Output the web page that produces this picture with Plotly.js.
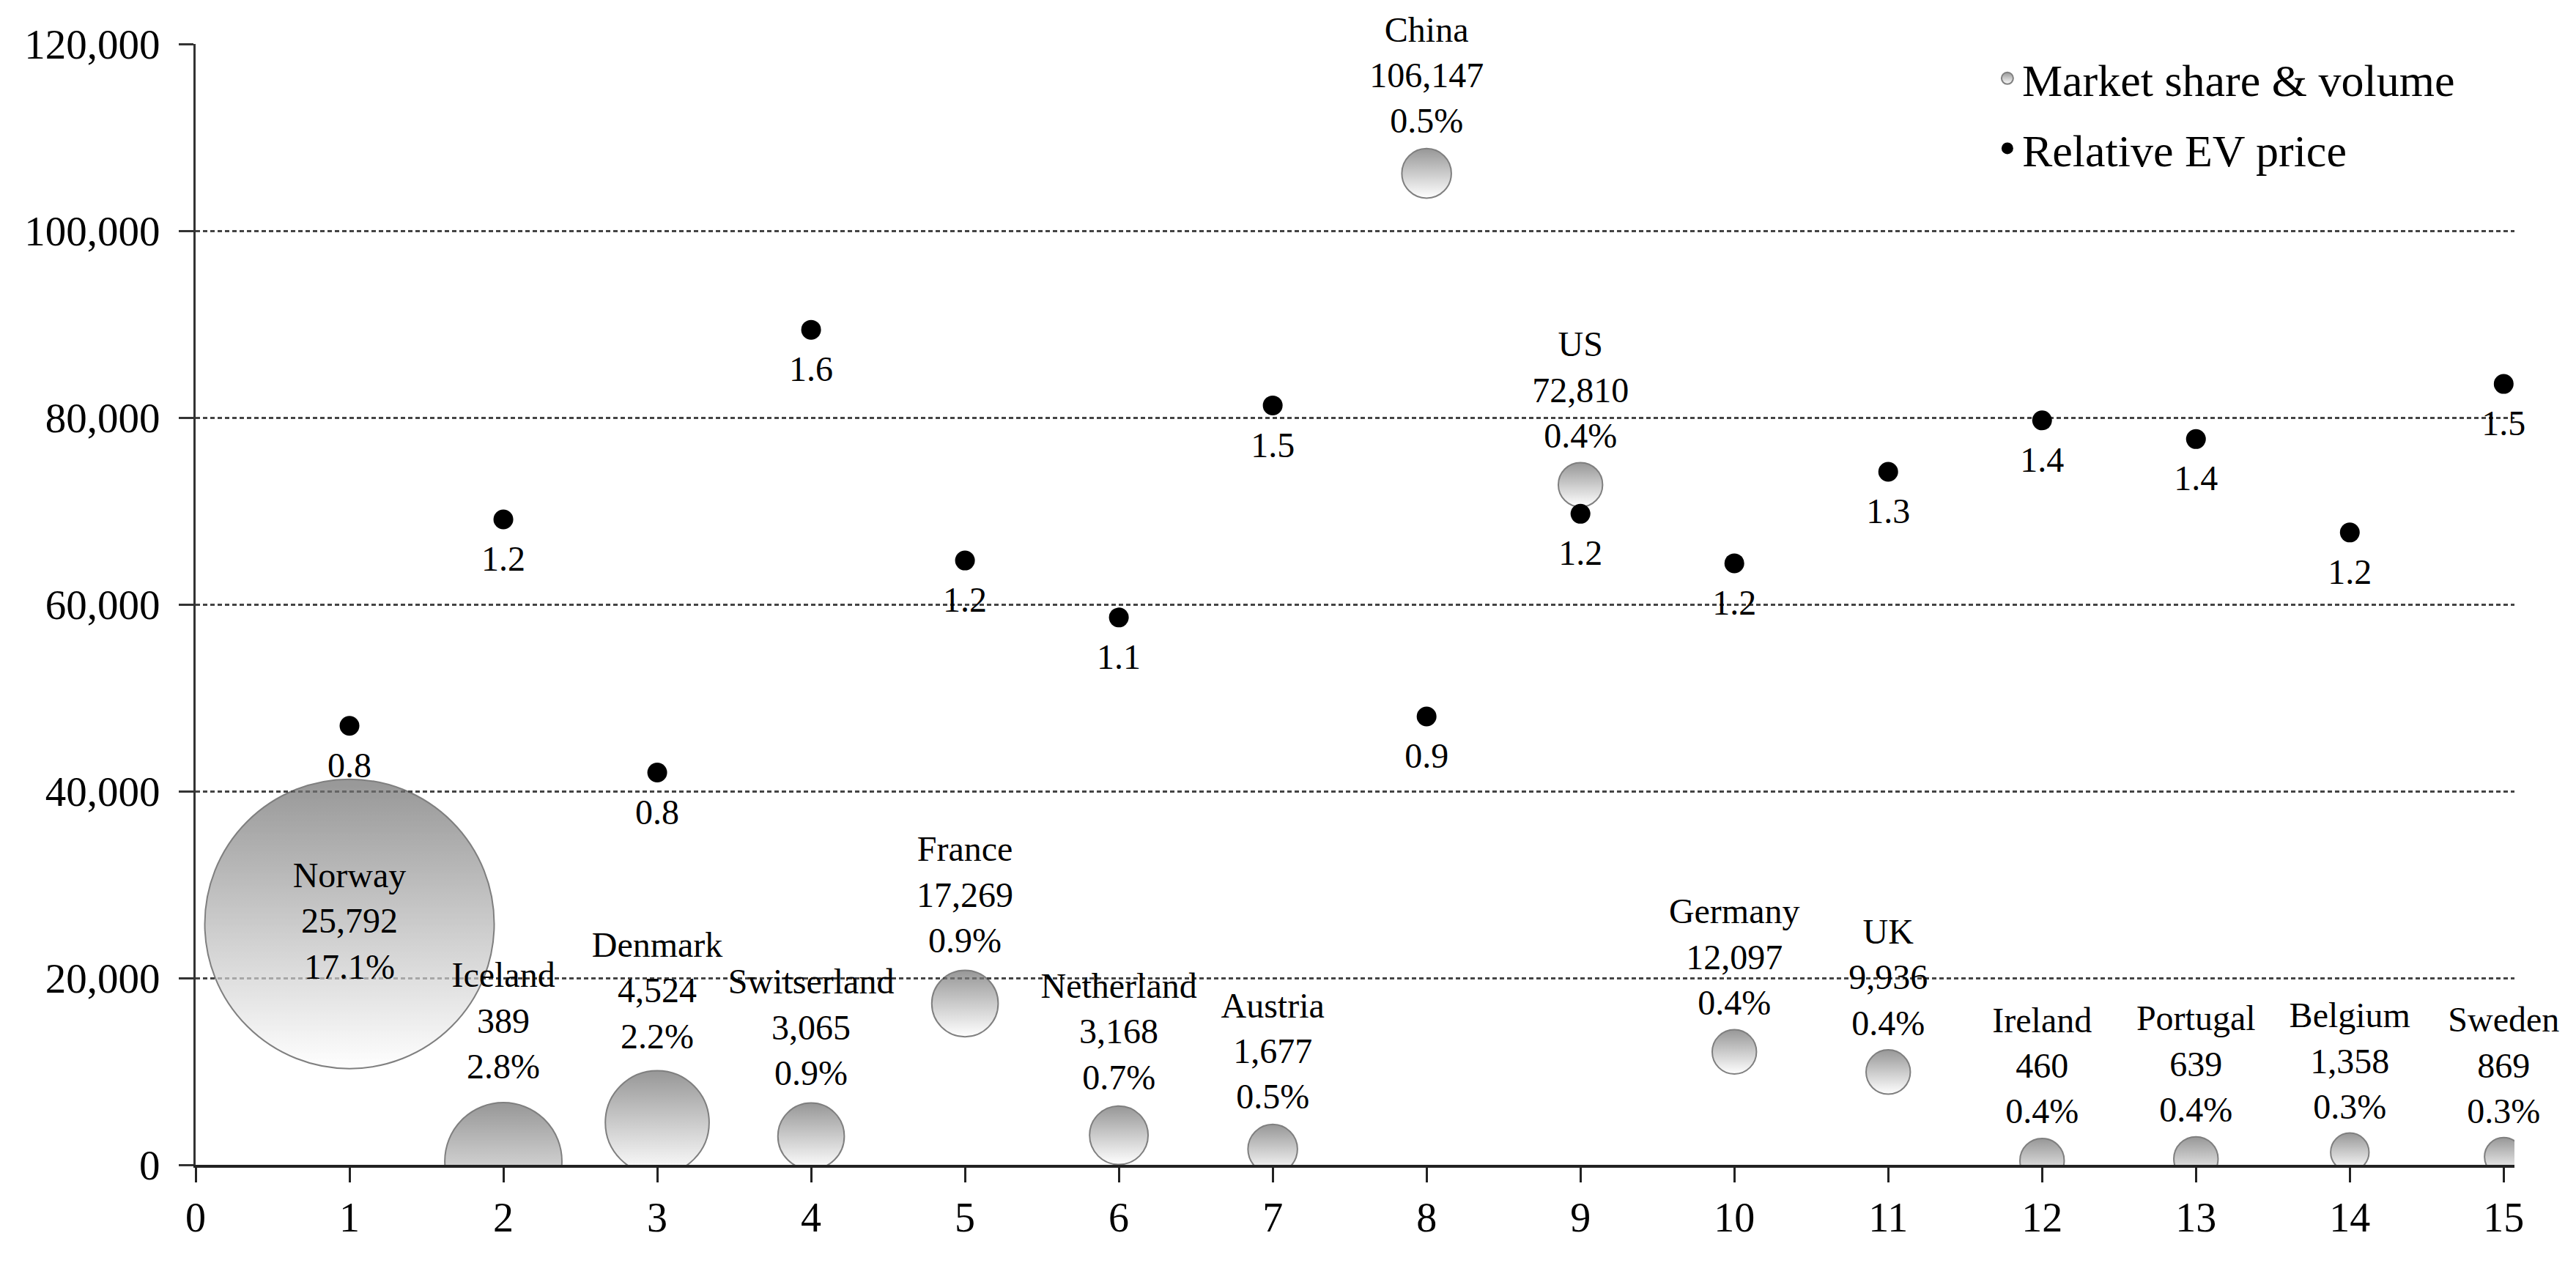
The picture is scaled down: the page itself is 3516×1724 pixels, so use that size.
<!DOCTYPE html>
<html>
<head>
<meta charset="utf-8">
<script src="https://cdn.plot.ly/plotly-3.0.1.min.js"></script>
<style>
  html, body { margin: 0; padding: 0; background: #fff; }
  #chart { width: 3516px; height: 1724px; }
</style>
</head>
<body>
<div id="chart"></div>
<script>
// ---- data ----
var countryIndex = [1, 2, 3, 4, 5, 6, 7, 8, 9, 10, 11, 12, 13, 14, 15];
var countries = ["Norway", "Iceland", "Denmark", "Switserland", "France", "Netherland", "Austria", "China", "US", "Germany", "UK", "Ireland", "Portugal", "Belgium", "Sweden"];
var evVolume = [25792, 389, 4524, 3065, 17269, 3168, 1677, 106147, 72810, 12097, 9936, 460, 639, 1358, 869];
var marketShare = [17.1, 2.8, 2.2, 0.9, 0.9, 0.7, 0.5, 0.5, 0.4, 0.4, 0.4, 0.4, 0.4, 0.3, 0.3];
var evPrice = [47000, 69100, 42000, 89400, 64700, 58600, 81300, 48000, 69700, 64400, 74200, 79700, 77700, 67700, 83600];
var relativePrice = [0.8, 1.2, 0.8, 1.6, 1.2, 1.1, 1.5, 0.9, 1.2, 1.2, 1.3, 1.4, 1.4, 1.2, 1.5];
var xTicks = [0, 1, 2, 3, 4, 5, 6, 7, 8, 9, 10, 11, 12, 13, 14, 15];
var yTicks = [0, 20000, 40000, 60000, 80000, 100000, 120000];

// ---- derived labels ----
var bubbleText = countries.map(function (c, i) {
  return c + "<br>" + evVolume[i].toLocaleString("en-US") + "<br>" + marketShare[i].toFixed(1) + "%";
});
var bubbleTextPos = countries.map(function (c, i) {
  return i === 0 ? "middle center" : "top center";
});
var priceText = relativePrice.map(function (v) { return v.toFixed(1); });

var FONT = "Liberation Serif, Times New Roman, serif";
// bubble area proportional to market share; scaled by 10 only so the legend symbol gets a usable size
var bubbleSize = marketShare.map(function (v) { return v * 10; });
var maxSize = Math.max.apply(null, bubbleSize);
var SIZEREF = 2 * maxSize / (395 * 395);

var bubbleMarker = {
  size: bubbleSize,
  sizemode: "area",
  sizeref: SIZEREF,
  color: "#6c6c6c",
  gradient: { type: "vertical", color: "#ffffff" },
  line: { color: "#4a4a4a", width: 2 }
};

// bubbles: clipped at the axes (half-hidden at y = 0)
var bubbles = {
  type: "scatter",
  mode: "markers",
  name: "Market share & volume",
  legendgroup: "a",
  x: countryIndex,
  y: evVolume,
  marker: bubbleMarker,
  cliponaxis: true,
  hoverinfo: "skip"
};

// bubble labels: same points, invisible markers so text offsets follow bubble size; not clipped
var bubbleLabels = {
  type: "scatter",
  mode: "markers+text",
  showlegend: false,
  legendgroup: "a",
  x: countryIndex,
  y: evVolume,
  text: bubbleText,
  textposition: bubbleTextPos,
  textfont: { family: FONT, size: 48, color: "#000" },
  marker: { size: bubbleSize, sizemode: "area", sizeref: SIZEREF, color: "rgba(0,0,0,0)", line: { width: 0 } },
  cliponaxis: false,
  hoverinfo: "skip"
};

var dots = {
  type: "scatter",
  mode: "markers",
  name: "Relative EV price",
  legendgroup: "b",
  x: countryIndex,
  y: evPrice,
  marker: { size: 27, color: "#000000", line: { width: 0 } },
  cliponaxis: false,
  hoverinfo: "skip"
};

var dotLabels = {
  type: "scatter",
  mode: "markers+text",
  showlegend: false,
  legendgroup: "b",
  x: countryIndex,
  y: evPrice,
  text: priceText,
  textposition: "bottom center",
  textfont: { family: FONT, size: 48, color: "#000" },
  marker: { size: 53, color: "rgba(0,0,0,0)", line: { width: 0 } },
  cliponaxis: false,
  hoverinfo: "skip"
};

var layout = {
  width: 3516,
  height: 1724,
  margin: { l: 267, r: 84, t: 60, b: 134 },
  paper_bgcolor: "#ffffff",
  plot_bgcolor: "#ffffff",
  showlegend: true,
  legend: {
    x: 0.775, y: 1.0, xanchor: "left", yanchor: "top",
    bgcolor: "rgba(0,0,0,0)",
    font: { family: FONT, size: 62, color: "#000" },
    itemsizing: "trace",
    traceorder: "grouped",
    tracegroupgap: 12
  },
  xaxis: {
    range: [0, 15.07],
    tickvals: xTicks,
    ticktext: xTicks.map(String),
    showgrid: false,
    zeroline: false,
    showline: true,
    linecolor: "#222",
    linewidth: 4,
    ticks: "outside",
    ticklen: 20,
    tickwidth: 3,
    tickcolor: "#222",
    tickfont: { family: FONT, size: 56, color: "#000" },
    layer: "below traces",
    fixedrange: true
  },
  yaxis: {
    range: [0, 120000],
    tickvals: yTicks,
    ticktext: yTicks.map(function (v) { return v.toLocaleString("en-US"); }),
    showgrid: true,
    gridcolor: "#444",
    gridwidth: 3,
    griddash: "6px,4px",
    zeroline: false,
    showline: true,
    linecolor: "#333",
    linewidth: 3,
    ticks: "outside",
    ticklen: 20,
    tickwidth: 3,
    tickcolor: "#333",
    tickfont: { family: FONT, size: 57, color: "#000" },
    ticklabelstandoff: 14,
    layer: "below traces",
    fixedrange: true
  }
};

Plotly.newPlot("chart", [bubbles, bubbleLabels, dots, dotLabels], layout, { displayModeBar: false, staticPlot: true });
</script>
</body>
</html>
